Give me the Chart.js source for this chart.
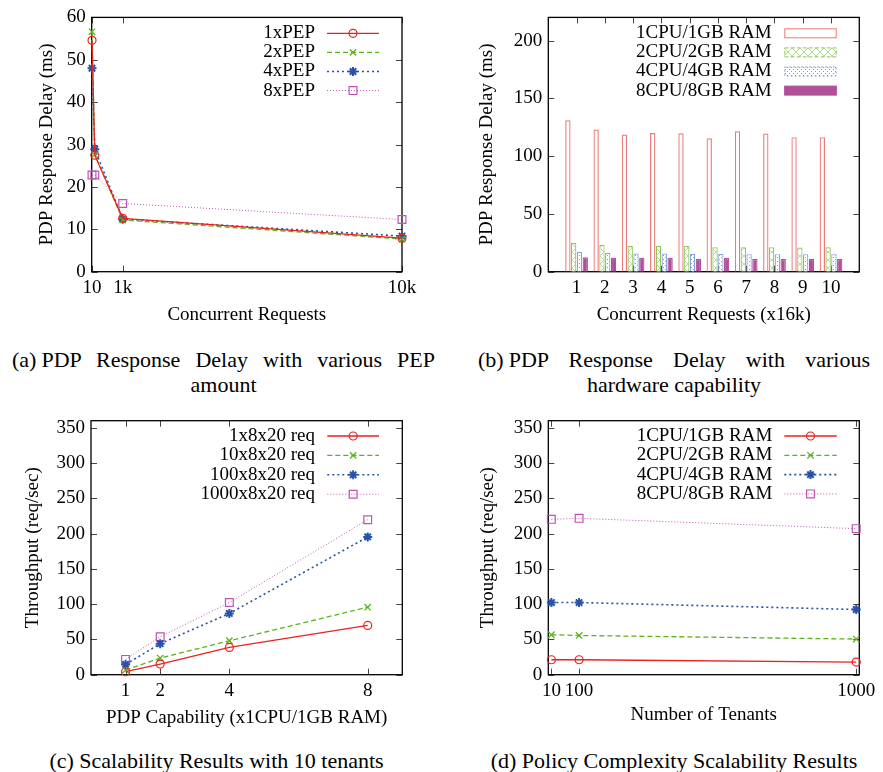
<!DOCTYPE html>
<html>
<head>
<meta charset="utf-8">
<script src="https://cdn.jsdelivr.net/npm/chart.js@4.4.1/dist/chart.umd.min.js"></script>
<style>
  body { margin: 0; background: #fff; }
  #page { position: relative; width: 883px; height: 772px; font-family: "Liberation Serif", serif; color: #000; }
  .panel { position: absolute; }
  .cap { position: absolute; font-size: 22px; line-height: 25px; }
  .just { text-align: justify; text-align-last: center; }
  .lbl { display: inline-block; margin-right: 5px; }
</style>
</head>
<body>
<div id="page">
  <div class="panel" style="left:0;top:0;width:440px;height:330px"><canvas id="chartA"></canvas></div>
  <div class="panel" style="left:440px;top:0;width:443px;height:330px"><canvas id="chartB"></canvas></div>
  <div class="panel" style="left:0;top:400px;width:440px;height:330px"><canvas id="chartC"></canvas></div>
  <div class="panel" style="left:440px;top:400px;width:443px;height:330px"><canvas id="chartD"></canvas></div>

  <div class="cap just" style="left:12px;top:347px;width:423px"><span class="lbl">(a)</span>PDP Response Delay with various PEP amount</div>
  <div class="cap just" style="left:478px;top:347px;width:392px"><span class="lbl">(b)</span>PDP Response Delay with various hardware capability</div>
  <div class="cap" style="left:0;top:748px;width:433px;text-align:center">(c) Scalability Results with 10 tenants</div>
  <div class="cap" style="left:478px;top:748px;width:392px;text-align:center">(d) Policy Complexity Scalability Results</div>
</div>

<script>
// (a) PDP response delay (ms) vs concurrent requests
const reqCounts = [10, 100, 1000, 10000];
const pep1 = [54.6, 27.5, 12.6, 7.9];
const pep2 = [56.6, 27.6, 12.2, 7.7];
const pep4 = [48.0, 28.9, 12.4, 8.4];
const pep8 = [22.8, 22.8, 16.1, 12.3];
const reqTicks = [10, 1000, 10000];
const reqTickLabels = ['10', '1k', '10k'];
const delayTicks = [0, 10, 20, 30, 40, 50, 60];

// (b) PDP response delay (ms) per hardware size, x16k requests
const loadSteps = [1, 2, 3, 4, 5, 6, 7, 8, 9, 10];
const hw1 = [131, 123, 118.6, 120, 119.8, 115.5, 121.5, 119.5, 116.4, 116.4];
const hw2 = [25, 23, 22.2, 22.4, 22.3, 21.2, 21.2, 21.2, 21, 21.2];
const hw4 = [17.2, 16.4, 15.8, 15.8, 15.4, 15.4, 15.2, 15.2, 15.2, 15.2];
const hw8 = [12.6, 11.8, 11.8, 11.8, 11, 11.8, 11, 11, 11, 11];
const hwDelayTicks = [0, 50, 100, 150, 200];

// (c) throughput (req/sec) vs PDP capability
const capability = [1, 2, 4, 8];
const req1 = [4.2, 15, 38.7, 69.8];
const req10 = [6.6, 23.6, 48.1, 95.7];
const req100 = [14.6, 43.9, 86.8, 195.2];
const req1000 = [21.7, 53.8, 102.3, 219.7];

// (d) throughput (req/sec) vs number of tenants
const tenants = [10, 100, 1000];
const tp1 = [21.2, 21.2, 17.9];
const tp2 = [56.6, 55.6, 50.5];
const tp4 = [102.3, 102.3, 92.4];
const tp8 = [220.2, 221.6, 207];
const tputTicks = [0, 50, 100, 150, 200, 250, 300, 350];

Chart.defaults.font.family = '"Liberation Serif", serif';
Chart.defaults.font.size = 19;
Chart.defaults.color = '#000';

// gnuplot-like frame with inward, mirrored ticks
const gnuFrame = {
  id: 'gnuFrame',
  beforeDatasetsDraw(chart) {
    const {ctx, chartArea: a, scales} = chart;
    const tl = 6;
    ctx.save();
    ctx.strokeStyle = '#444';
    ctx.lineWidth = 1;
    ctx.beginPath();
    scales.x.ticks.forEach(t => {
      const px = Math.round(scales.x.getPixelForValue(t.value)) + 0.5;
      ctx.moveTo(px, a.bottom); ctx.lineTo(px, a.bottom - tl);
      ctx.moveTo(px, a.top); ctx.lineTo(px, a.top + tl);
    });
    scales.y.ticks.forEach(t => {
      const py = Math.round(scales.y.getPixelForValue(t.value)) + 0.5;
      ctx.moveTo(a.left, py); ctx.lineTo(a.left + tl, py);
      ctx.moveTo(a.right, py); ctx.lineTo(a.right - tl, py);
    });
    ctx.stroke();
    ctx.strokeStyle = '#000';
    ctx.lineWidth = 1.3;
    ctx.strokeRect(a.left, a.top, a.right - a.left, a.bottom - a.top);
    ctx.restore();
  }
};

// key inside the plot: right-aligned text, sample on the right
const gnuKey = {
  id: 'gnuKey',
  afterDatasetsDraw(chart, args, o) {
    const ctx = chart.ctx;
    ctx.save();
    ctx.font = '19px "Liberation Serif", serif';
    ctx.textAlign = 'right';
    ctx.textBaseline = 'middle';
    chart.data.datasets.forEach((ds, i) => {
      const y = o.top + i * o.step;
      ctx.fillStyle = '#000';
      ctx.fillText(ds.label, o.textRight, y);
      if (o.boxes) {
        ctx.fillStyle = ds.backgroundColor;
        ctx.fillRect(o.x1, y - 4.5, o.x2 - o.x1, 9);
        ctx.strokeStyle = ds.borderColor;
        ctx.lineWidth = 1;
        ctx.setLineDash(ds.keyDash || []);
        ctx.strokeRect(o.x1 + 0.5, y - 4.5, o.x2 - o.x1 - 1, 9);
        ctx.setLineDash([]);
      } else {
        ctx.strokeStyle = ds.borderColor;
        ctx.lineWidth = ds.borderWidth;
        ctx.setLineDash(ds.borderDash || []);
        ctx.beginPath();
        ctx.moveTo(o.x1, y); ctx.lineTo(o.x2, y);
        ctx.stroke();
        ctx.setLineDash([]);
        ctx.lineWidth = ds.pointBorderWidth;
        ctx.fillStyle = ds.pointBackgroundColor;
        Chart.helpers.drawPoint(ctx, {pointStyle: ds.pointStyle, rotation: 0, radius: ds.pointRadius, borderWidth: ds.pointBorderWidth}, (o.x1 + o.x2) / 2, y);
      }
    });
    ctx.restore();
  }
};

const lineStyles = [
  {borderColor: '#e8221e', borderWidth: 1.3, pointStyle: 'circle', pointRadius: 4, pointBorderWidth: 1.2},
  {borderColor: '#5cb31c', borderWidth: 1.3, borderDash: [5, 3], pointStyle: 'crossRot', pointRadius: 4.5, pointBorderWidth: 1.3},
  {borderColor: '#2852a8', borderWidth: 1.6, borderDash: [2, 3], pointStyle: 'star', pointRadius: 4.5, pointBorderWidth: 2},
  {borderColor: '#c054b4', borderWidth: 1, borderDash: [1, 2], pointStyle: 'rect', pointRadius: 5.5, pointBorderWidth: 1.2}
];

function lineSet(label, xs, ys, i) {
  const st = lineStyles[i];
  return Object.assign({
    label: label,
    data: xs.map((x, k) => ({x: x, y: ys[k]})),
    clip: false, fill: false, tension: 0,
    pointBorderColor: st.borderColor,
    pointBackgroundColor: 'rgba(0,0,0,0)'
  }, st);
}

function frameScales(g) {
  return {
    x: {
      type: 'linear', min: g.xMin, max: g.xMax, offset: false,
      grid: {display: false, drawTicks: false}, border: {display: false},
      ticks: {padding: 5, autoSkip: false, maxRotation: 0, callback: (v, i) => g.xLabels[i]},
      afterBuildTicks: s => { s.ticks = g.xTicks.map(v => ({value: v})); },
      afterFit: s => { s.height = g.h - g.bottom; },
      title: {display: true, text: g.xTitle, padding: {top: 0, bottom: g.xTitlePad}}
    },
    y: {
      type: 'linear', min: 0, max: g.yMax,
      grid: {display: false, drawTicks: false}, border: {display: false},
      ticks: {padding: 6, autoSkip: false},
      afterBuildTicks: s => { s.ticks = g.yTicks.map(v => ({value: v})); },
      afterFit: s => { s.width = g.left; },
      title: {display: true, text: g.yTitle, padding: {top: g.yTitlePad, bottom: 0}}
    }
  };
}

function baseOptions(g, key) {
  return {
    responsive: true, maintainAspectRatio: false, animation: false,
    layout: {padding: {left: 0, top: g.top, right: g.w - g.right, bottom: 0}},
    scales: frameScales(g),
    plugins: {legend: {display: false}, tooltip: {enabled: false}, gnuKey: key}
  };
}

// (a)
new Chart(document.getElementById('chartA'), {
  type: 'line',
  data: {datasets: [
    lineSet('1xPEP', reqCounts, pep1, 0),
    lineSet('2xPEP', reqCounts, pep2, 1),
    lineSet('4xPEP', reqCounts, pep4, 2),
    lineSet('8xPEP', reqCounts, pep8, 3)
  ]},
  options: baseOptions({
    w: 440, h: 330, left: 91.7, right: 402, top: 17.3, bottom: 271.7,
    xMin: 0, xMax: 10000, xTicks: reqTicks, xLabels: reqTickLabels,
    yMax: 60, yTicks: delayTicks,
    xTitle: 'Concurrent Requests', xTitlePad: 3.6,
    yTitle: 'PDP Response Delay (ms)', yTitlePad: 35.3
  }, {textRight: 315, x1: 327, x2: 379, top: 33.3, step: 19.1}),
  plugins: [gnuFrame, gnuKey]
});

// (b)
const ctxB = document.getElementById('chartB').getContext('2d');
function pattern(color, kind) {
  const c = document.createElement('canvas');
  c.width = 8; c.height = 8;
  const g = c.getContext('2d');
  g.fillStyle = '#fff';
  g.fillRect(0, 0, 8, 8);
  if (kind === 'cross') {
    g.strokeStyle = color; g.lineWidth = 0.8;
    g.beginPath();
    g.moveTo(0, 0); g.lineTo(8, 8);
    g.moveTo(8, 0); g.lineTo(0, 8);
    g.stroke();
  } else {
    g.fillStyle = color;
    [[1, 1], [5, 1], [3, 3], [7, 3], [1, 5], [5, 5], [3, 7], [7, 7]].forEach(p => g.fillRect(p[0], p[1], 1, 1));
  }
  return ctxB.createPattern(c, 'repeat');
}
function barSet(label, ys, fill, border, dash) {
  return {
    label: label,
    data: loadSteps.map((x, k) => ({x: x, y: ys[k]})),
    backgroundColor: fill, borderColor: border, borderWidth: 1.2, keyDash: dash,
    categoryPercentage: 0.82, barPercentage: 0.92
  };
}
new Chart(ctxB, {
  type: 'bar',
  data: {datasets: [
    barSet('1CPU/1GB RAM', hw1, 'rgba(255,255,255,0)', 'rgba(236,96,96,0.85)', []),
    barSet('2CPU/2GB RAM', hw2, pattern('#9fd37a', 'cross'), '#8cc860', [4, 2]),
    barSet('4CPU/4GB RAM', hw4, pattern('#7f98dc', 'dots'), '#8aa2e0', [2, 2]),
    barSet('8CPU/8GB RAM', hw8, '#b0509a', '#b0509a', [])
  ]},
  options: baseOptions({
    w: 443, h: 330, left: 108.3, right: 419.3, top: 17.3, bottom: 271.7,
    xMin: 0, xMax: 11, xTicks: loadSteps, xLabels: loadSteps.map(String),
    yMax: 220, yTicks: hwDelayTicks,
    xTitle: 'Concurrent Requests (x16k)', xTitlePad: 3.6,
    yTitle: 'PDP Response Delay (ms)', yTitlePad: 35.3
  }, {textRight: 331.7, x1: 344.3, x2: 396.7, top: 33.3, step: 19.1, boxes: true}),
  plugins: [gnuFrame, gnuKey]
});

// (c)
new Chart(document.getElementById('chartC'), {
  type: 'line',
  data: {datasets: [
    lineSet('1x8x20 req', capability, req1, 0),
    lineSet('10x8x20 req', capability, req10, 1),
    lineSet('100x8x20 req', capability, req100, 2),
    lineSet('1000x8x20 req', capability, req1000, 3)
  ]},
  options: baseOptions({
    w: 440, h: 330, left: 91, right: 402.3, top: 20.7, bottom: 274.7,
    xMin: 0, xMax: 9, xTicks: capability, xLabels: capability.map(String),
    yMax: 360, yTicks: tputTicks,
    xTitle: 'PDP Capability (x1CPU/1GB RAM)', xTitlePad: 0.3,
    yTitle: 'Throughput (req/sec)', yTitlePad: 21.9
  }, {textRight: 315, x1: 327.3, x2: 379, top: 36, step: 19.4}),
  plugins: [gnuFrame, gnuKey]
});

// (d)
new Chart(document.getElementById('chartD'), {
  type: 'line',
  data: {datasets: [
    lineSet('1CPU/1GB RAM', tenants, tp1, 0),
    lineSet('2CPU/2GB RAM', tenants, tp2, 1),
    lineSet('4CPU/4GB RAM', tenants, tp4, 2),
    lineSet('8CPU/8GB RAM', tenants, tp8, 3)
  ]},
  options: baseOptions({
    w: 443, h: 330, left: 108.3, right: 419.3, top: 20.7, bottom: 274.7,
    xMin: 0, xMax: 1010, xTicks: tenants, xLabels: tenants.map(String),
    yMax: 360, yTicks: tputTicks,
    xTitle: 'Number of Tenants', xTitlePad: 3.6,
    yTitle: 'Throughput (req/sec)', yTitlePad: 36.9
  }, {textRight: 332.3, x1: 344.3, x2: 396.7, top: 36, step: 19.3}),
  plugins: [gnuFrame, gnuKey]
});
</script>
</body>
</html>
